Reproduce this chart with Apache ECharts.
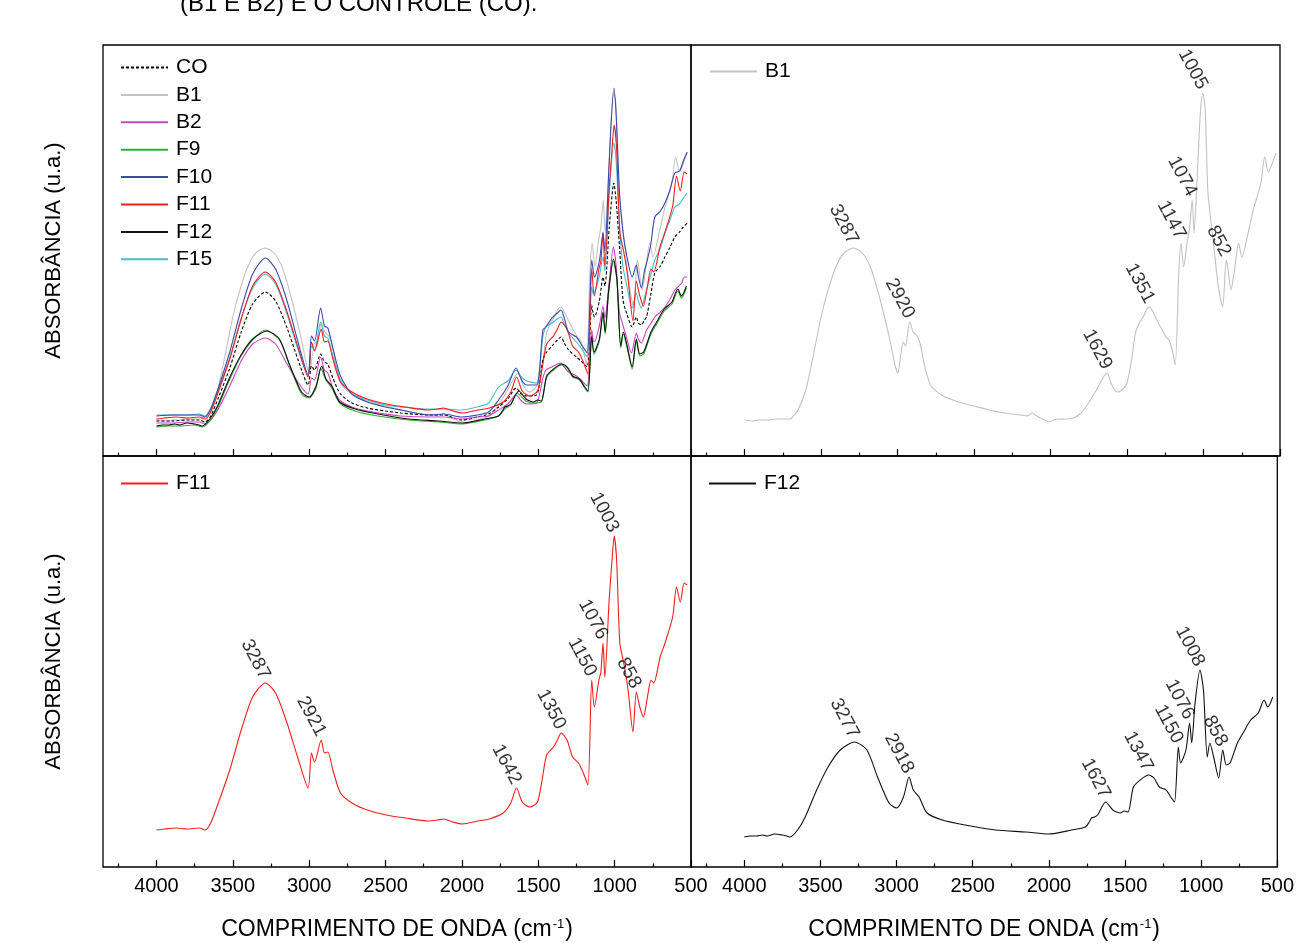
<!DOCTYPE html>
<html>
<head>
<meta charset="utf-8">
<script src="https://cdn.jsdelivr.net/npm/echarts@6/dist/echarts.min.js"></script>
<style>
  html, body { margin: 0; padding: 0; background: #ffffff; }
  #chart { width: 1297px; height: 943px; }
</style>
</head>
<body>
<div id="chart"></div>
<script>
// FTIR spectra: [wavenumber (cm-1), absorbance (u.a.)]
const xMajorTicks = [500, 1000, 1500, 2000, 2500, 3000, 3500, 4000];
const xMinorTicks = [750, 1250, 1750, 2250, 2750, 3250, 3750, 4250];

const CO = [[4000,0.35],[3900,0.35],[3800,0.36],[3720,0.36],[3682,0.34],[3645,0.40],[3595,0.58],[3520,0.88],[3445,1.24],[3370,1.52],[3287,1.64],[3220,1.55],[3145,1.28],[3070,0.95],[3007,0.71],[2985,0.90],[2965,0.86],[2925,1.02],[2900,0.94],[2878,0.92],[2845,0.78],[2795,0.62],[2720,0.53],[2620,0.48],[2500,0.45],[2400,0.43],[2220,0.41],[2120,0.41],[2000,0.36],[1900,0.39],[1825,0.42],[1760,0.49],[1700,0.57],[1645,0.68],[1610,0.62],[1575,0.60],[1511,0.61],[1470,0.96],[1450,1.03],[1410,1.10],[1375,1.16],[1351,1.19],[1330,1.13],[1302,1.06],[1250,0.99],[1220,0.95],[1180,0.89],[1150,1.51],[1140,1.42],[1132,1.39],[1100,1.55],[1076,1.79],[1064,1.70],[1035,2.29],[1005,2.73],[990,2.55],[968,2.09],[945,1.56],[920,1.42],[885,1.29],[858,1.39],[845,1.33],[825,1.31],[805,1.36],[791,1.39],[765,1.60],[737,1.83],[700,1.90],[671,1.99],[640,2.08],[606,2.19],[575,2.24],[550,2.29],[525,2.33]];

const B1 = [[4000,0.36],[3950,0.35],[3900,0.36],[3850,0.36],[3800,0.37],[3750,0.37],[3700,0.37],[3680,0.40],[3650,0.46],[3600,0.66],[3550,1.01],[3500,1.39],[3450,1.68],[3400,1.90],[3350,2.03],[3287,2.08],[3230,2.03],[3180,1.90],[3140,1.71],[3100,1.48],[3050,1.16],[3015,0.90],[2998,0.83],[2978,1.02],[2962,1.14],[2948,1.10],[2920,1.34],[2898,1.24],[2872,1.20],[2850,1.11],[2820,0.88],[2780,0.70],[2700,0.60],[2600,0.54],[2500,0.50],[2400,0.46],[2300,0.43],[2200,0.41],[2150,0.40],[2120,0.43],[2080,0.39],[2040,0.36],[2010,0.34],[1980,0.36],[1940,0.37],[1900,0.37],[1850,0.38],[1800,0.43],[1760,0.51],[1700,0.66],[1650,0.80],[1629,0.83],[1605,0.73],[1580,0.66],[1560,0.64],[1520,0.68],[1500,0.73],[1470,0.96],[1445,1.23],[1420,1.33],[1395,1.39],[1370,1.47],[1351,1.49],[1330,1.44],[1305,1.36],[1270,1.26],[1245,1.19],[1225,1.16],[1205,1.06],[1185,0.91],[1162,1.83],[1147,2.13],[1130,1.89],[1105,2.16],[1090,2.29],[1074,2.56],[1062,2.23],[1045,2.66],[1030,3.16],[1018,3.49],[1005,3.63],[990,3.49],[972,2.66],[958,2.43],[930,2.06],[905,1.71],[875,1.49],[852,1.96],[842,1.89],[820,1.66],[800,1.83],[770,2.13],[750,1.99],[700,2.29],[675,2.46],[625,2.73],[600,2.99],[575,2.84],[550,2.93],[525,3.03]];

const B2 = [[4000,0.33],[3900,0.33],[3800,0.34],[3720,0.34],[3682,0.32],[3645,0.36],[3595,0.47],[3520,0.70],[3445,0.95],[3370,1.12],[3287,1.18],[3220,1.12],[3145,0.92],[3070,0.73],[3007,0.62],[2985,0.78],[2965,0.76],[2925,0.99],[2900,0.86],[2878,0.83],[2845,0.68],[2795,0.55],[2720,0.49],[2620,0.45],[2500,0.42],[2400,0.40],[2220,0.39],[2120,0.39],[2000,0.37],[1900,0.39],[1825,0.40],[1760,0.46],[1700,0.52],[1645,0.61],[1610,0.55],[1575,0.52],[1511,0.53],[1470,0.78],[1450,0.86],[1410,0.89],[1375,0.92],[1351,0.93],[1330,0.89],[1302,0.84],[1250,0.80],[1220,0.76],[1180,0.70],[1150,1.26],[1140,1.15],[1132,1.14],[1100,1.30],[1076,1.50],[1064,1.38],[1035,1.75],[1008,2.09],[990,1.90],[970,1.45],[950,1.33],[925,1.20],[890,1.03],[858,1.23],[845,1.17],[825,1.13],[805,1.20],[791,1.26],[765,1.32],[737,1.39],[700,1.44],[671,1.49],[640,1.56],[606,1.66],[580,1.70],[560,1.73],[545,1.79],[525,1.79]];

const F9 = [[4000,0.29],[3920,0.30],[3850,0.30],[3750,0.31],[3700,0.29],[3650,0.35],[3600,0.48],[3525,0.75],[3450,0.99],[3370,1.16],[3287,1.26],[3195,1.16],[3125,0.89],[3050,0.62],[3000,0.58],[2955,0.68],[2925,0.88],[2890,0.76],[2852,0.68],[2800,0.53],[2700,0.45],[2550,0.40],[2350,0.36],[2150,0.34],[2000,0.32],[1850,0.36],[1760,0.40],[1720,0.47],[1680,0.51],[1640,0.63],[1580,0.55],[1530,0.53],[1480,0.54],[1445,0.79],[1400,0.86],[1351,0.91],[1310,0.88],[1275,0.79],[1230,0.76],[1200,0.69],[1175,0.64],[1150,1.18],[1135,1.02],[1100,1.15],[1076,1.42],[1062,1.22],[1040,1.62],[1008,1.95],[985,1.75],[960,1.08],[943,1.22],[918,1.08],[885,0.87],[858,1.15],[835,1.00],[810,1.02],[762,1.22],[725,1.32],[675,1.45],[625,1.52],[587,1.65],[562,1.58],[530,1.68]];

const F10 = [[4000,0.40],[3900,0.41],[3800,0.41],[3720,0.41],[3682,0.39],[3645,0.47],[3595,0.68],[3520,1.04],[3445,1.47],[3370,1.82],[3287,1.98],[3220,1.87],[3145,1.55],[3070,1.12],[3007,0.81],[2985,1.20],[2965,1.15],[2925,1.48],[2900,1.30],[2878,1.28],[2845,1.08],[2795,0.80],[2720,0.62],[2620,0.54],[2500,0.49],[2400,0.46],[2220,0.41],[2120,0.42],[2000,0.39],[1900,0.41],[1825,0.44],[1760,0.56],[1700,0.70],[1645,0.88],[1610,0.76],[1575,0.71],[1511,0.71],[1470,1.26],[1450,1.29],[1410,1.38],[1375,1.43],[1351,1.46],[1330,1.38],[1302,1.24],[1250,1.19],[1220,1.12],[1180,1.03],[1150,1.96],[1140,1.85],[1132,1.79],[1100,1.95],[1076,2.23],[1064,2.05],[1035,2.96],[1005,3.68],[990,3.40],[968,2.63],[945,2.23],[920,2.00],[885,1.79],[858,1.91],[845,1.80],[825,1.68],[805,1.85],[791,1.93],[765,2.10],[737,2.39],[700,2.45],[671,2.53],[640,2.65],[606,2.83],[575,2.85],[550,2.95],[525,3.04]];

const F11 = [[4000,0.37],[3950,0.38],[3870,0.39],[3800,0.38],[3720,0.39],[3682,0.37],[3645,0.44],[3595,0.64],[3520,0.97],[3445,1.37],[3370,1.70],[3287,1.84],[3220,1.74],[3145,1.44],[3070,1.07],[3007,0.79],[2985,1.14],[2965,1.05],[2921,1.27],[2900,1.14],[2878,1.15],[2845,0.97],[2795,0.74],[2720,0.64],[2620,0.57],[2495,0.52],[2370,0.49],[2220,0.46],[2160,0.47],[2120,0.48],[2060,0.45],[1995,0.43],[1895,0.46],[1820,0.48],[1730,0.54],[1680,0.64],[1642,0.79],[1605,0.65],[1555,0.60],[1505,0.65],[1475,0.87],[1445,1.12],[1400,1.20],[1375,1.27],[1350,1.34],[1312,1.27],[1275,1.10],[1237,1.04],[1205,0.94],[1175,0.82],[1150,1.87],[1133,1.60],[1103,1.87],[1090,1.95],[1076,2.24],[1064,1.90],[1036,2.67],[1018,3.05],[1003,3.31],[987,3.07],[966,2.24],[940,2.04],[912,1.77],[880,1.35],[858,1.75],[835,1.60],[812,1.50],[785,1.70],[762,1.87],[744,1.84],[702,2.10],[670,2.24],[620,2.50],[595,2.80],[570,2.65],[545,2.84],[525,2.82]];

const F12 = [[4000,0.30],[3960,0.31],[3920,0.31],[3880,0.32],[3850,0.31],[3800,0.33],[3750,0.32],[3720,0.31],[3700,0.30],[3650,0.37],[3600,0.50],[3525,0.77],[3450,1.00],[3370,1.17],[3277,1.25],[3195,1.17],[3125,0.90],[3050,0.64],[3000,0.59],[2955,0.70],[2918,0.90],[2890,0.77],[2852,0.70],[2800,0.54],[2700,0.47],[2550,0.42],[2350,0.37],[2150,0.35],[2000,0.33],[1850,0.37],[1760,0.40],[1735,0.45],[1720,0.49],[1700,0.50],[1680,0.52],[1627,0.65],[1580,0.57],[1555,0.55],[1530,0.54],[1505,0.56],[1480,0.55],[1445,0.80],[1400,0.87],[1347,0.92],[1310,0.89],[1275,0.80],[1230,0.77],[1200,0.70],[1175,0.65],[1150,1.20],[1135,1.04],[1100,1.17],[1076,1.44],[1062,1.24],[1040,1.64],[1008,1.97],[985,1.77],[960,1.10],[943,1.24],[918,1.10],[885,0.89],[858,1.17],[835,1.02],[810,1.04],[762,1.24],[725,1.34],[675,1.47],[625,1.54],[587,1.67],[562,1.60],[530,1.70]];

const F15 = [[4000,0.41],[3900,0.41],[3800,0.41],[3720,0.42],[3682,0.40],[3645,0.47],[3595,0.66],[3520,0.98],[3445,1.38],[3370,1.68],[3287,1.82],[3220,1.72],[3145,1.42],[3070,1.05],[3007,0.80],[2985,1.10],[2965,1.06],[2925,1.34],[2900,1.20],[2878,1.18],[2845,1.00],[2795,0.76],[2720,0.62],[2620,0.56],[2500,0.51],[2400,0.49],[2220,0.47],[2120,0.47],[2000,0.46],[1900,0.49],[1825,0.53],[1760,0.69],[1700,0.75],[1645,0.86],[1610,0.79],[1575,0.75],[1511,0.73],[1470,1.19],[1450,1.29],[1410,1.33],[1375,1.37],[1351,1.39],[1330,1.32],[1302,1.23],[1250,1.14],[1220,1.08],[1180,0.99],[1150,1.69],[1140,1.62],[1132,1.63],[1100,1.80],[1076,1.99],[1064,1.85],[1035,2.63],[1005,3.13],[990,2.95],[968,2.29],[945,1.89],[920,1.70],[885,1.48],[858,1.63],[845,1.55],[825,1.48],[805,1.58],[791,1.66],[765,1.80],[737,1.96],[700,2.08],[671,2.23],[640,2.35],[606,2.49],[575,2.52],[550,2.58],[525,2.63]];

// band positions marked on the single-sample panels
const B1Bands = [3287, 2920, 1629, 1351, 1147, 1074, 1005, 852];
const F11Bands = [3287, 2921, 1642, 1350, 1150, 1076, 1003, 858];
const F12Bands = [3277, 2918, 1627, 1347, 1150, 1076, 1008, 858];

const FONT = '"Liberation Sans", Arial, Helvetica, sans-serif';
const COLORS = {
  CO: '#000000', B1: '#c2c2c2', B2: '#cc44c4', F9: '#2fae2f',
  F10: '#3a48a8', F11: '#f01e1e', F12: '#111111', F15: '#45bfd2'
};

const panels = [
  { left: 103, top: 45, width: 588, height: 411, xLabels: false, yTitle: true },
  { left: 691, top: 45, width: 589, height: 411, xLabels: false, yTitle: false },
  { left: 103, top: 456, width: 588, height: 411, xLabels: true, yTitle: true },
  { left: 691, top: 456, width: 589, height: 411, xLabels: true, yTitle: false }
];

const grids = panels.map(p => ({
  left: p.left, top: p.top, width: p.width, height: p.height,
  show: true, borderColor: '#000', borderWidth: 1.3, backgroundColor: 'transparent'
}));

const xAxes = [];
panels.forEach((p, i) => {
  xAxes.push({
    type: 'value', gridIndex: i, inverse: true, min: 500, max: 4350, position: 'bottom',
    axisLine: { show: false }, splitLine: { show: false },
    axisTick: { show: true, inside: true, length: 7, customValues: xMajorTicks, lineStyle: { color: '#000', width: 1.2 } },
    axisLabel: {
      show: p.xLabels, customValues: xMajorTicks, fontFamily: FONT, fontSize: 20, color: '#000', margin: 9,
      formatter: v => String(v)
    },
    name: p.xLabels ? 'COMPRIMENTO DE ONDA (cm{sup|-1})' : '',
    nameLocation: 'middle', nameGap: 51,
    nameTextStyle: {
      fontFamily: FONT, fontSize: 23, color: '#000',
      rich: { sup: { fontFamily: FONT, fontSize: 13, color: '#000', verticalAlign: 'top', padding: [0, 1, 0, 1] } }
    }
  });
  xAxes.push({
    type: 'value', gridIndex: i, inverse: true, min: 500, max: 4350, position: 'bottom',
    axisLine: { show: false }, splitLine: { show: false }, axisLabel: { show: false },
    axisTick: { show: true, inside: true, length: 3.5, customValues: xMinorTicks, lineStyle: { color: '#000', width: 1.2 } }
  });
});

const yAxes = panels.map((p, i) => ({
  type: 'value', gridIndex: i, min: 0, max: 4.11,
  axisLine: { show: false }, axisTick: { show: false }, axisLabel: { show: false }, splitLine: { show: false },
  name: p.yTitle ? 'ABSORBÂNCIA (u.a.)' : '',
  nameLocation: 'middle', nameRotate: 90, nameGap: 38,
  nameTextStyle: { fontFamily: FONT, fontSize: 22, color: '#000' }
}));

function spectrum(name, data, panel, dashed) {
  return {
    type: 'line', name, data,
    xAxisIndex: panel * 2, yAxisIndex: panel,
    symbol: 'none', showSymbol: false, animation: false, silent: true,
    smooth: 0.25,
    lineStyle: { color: COLORS[name], width: 1.1, type: dashed ? [3, 2] : 'solid' },
    itemStyle: { color: COLORS[name] }
  };
}

const valueAt = (data, w) => data.find(d => d[0] === w)[1];

function bandLabels(name, data, bands, panel) {
  return {
    type: 'scatter', name: name + ' bandas',
    xAxisIndex: panel * 2, yAxisIndex: panel,
    symbolSize: 0, animation: false, silent: true, z: 5,
    data: bands.map(w => [w, valueAt(data, w)]),
    label: {
      show: true, position: 'top', distance: 5, rotate: -62,
      align: 'right', verticalAlign: 'middle',
      fontFamily: FONT, fontSize: 19, color: '#000',
      formatter: p => String(p.value[0])
    }
  };
}

const series = [
  spectrum('B1', B1, 0), spectrum('CO', CO, 0, true), spectrum('B2', B2, 0), spectrum('F9', F9, 0),
  spectrum('F12', F12, 0), spectrum('F15', F15, 0), spectrum('F11', F11, 0), spectrum('F10', F10, 0),
  spectrum('B1', B1, 1), bandLabels('B1', B1, B1Bands, 1),
  spectrum('F11', F11, 2), bandLabels('F11', F11, F11Bands, 2),
  spectrum('F12', F12, 3), bandLabels('F12', F12, F12Bands, 3)
];

const legendBase = {
  orient: 'vertical', padding: 0, itemWidth: 47, itemHeight: 12, itemGap: 6.4,
  selectedMode: false,
  itemStyle: { opacity: 0 },
  textStyle: { fontFamily: FONT, fontSize: 21, color: '#000', padding: [0, 0, 0, 3] }
};

const option = {
  backgroundColor: '#ffffff',
  animation: false,
  grid: grids,
  xAxis: xAxes,
  yAxis: yAxes,
  legend: [
    Object.assign({}, legendBase, { left: 120, top: 57, data: ['CO', 'B1', 'B2', 'F9', 'F10', 'F11', 'F12', 'F15'] }),
    Object.assign({}, legendBase, { left: 709, top: 61, data: ['B1'] }),
    Object.assign({}, legendBase, { left: 120, top: 473, data: ['F11'] }),
    Object.assign({}, legendBase, { left: 708, top: 473, data: ['F12'] })
  ],
  graphic: [{
    type: 'text', x: 180, y: 16,
    style: { text: '(B1 E B2) E O CONTROLE (CO).', fontFamily: FONT, fontSize: 24, fill: '#000', verticalAlign: 'bottom' }
  }],
  series
};

const chart = echarts.init(document.getElementById('chart'), null, { renderer: 'canvas' });
chart.setOption(option);
</script>
</body>
</html>
